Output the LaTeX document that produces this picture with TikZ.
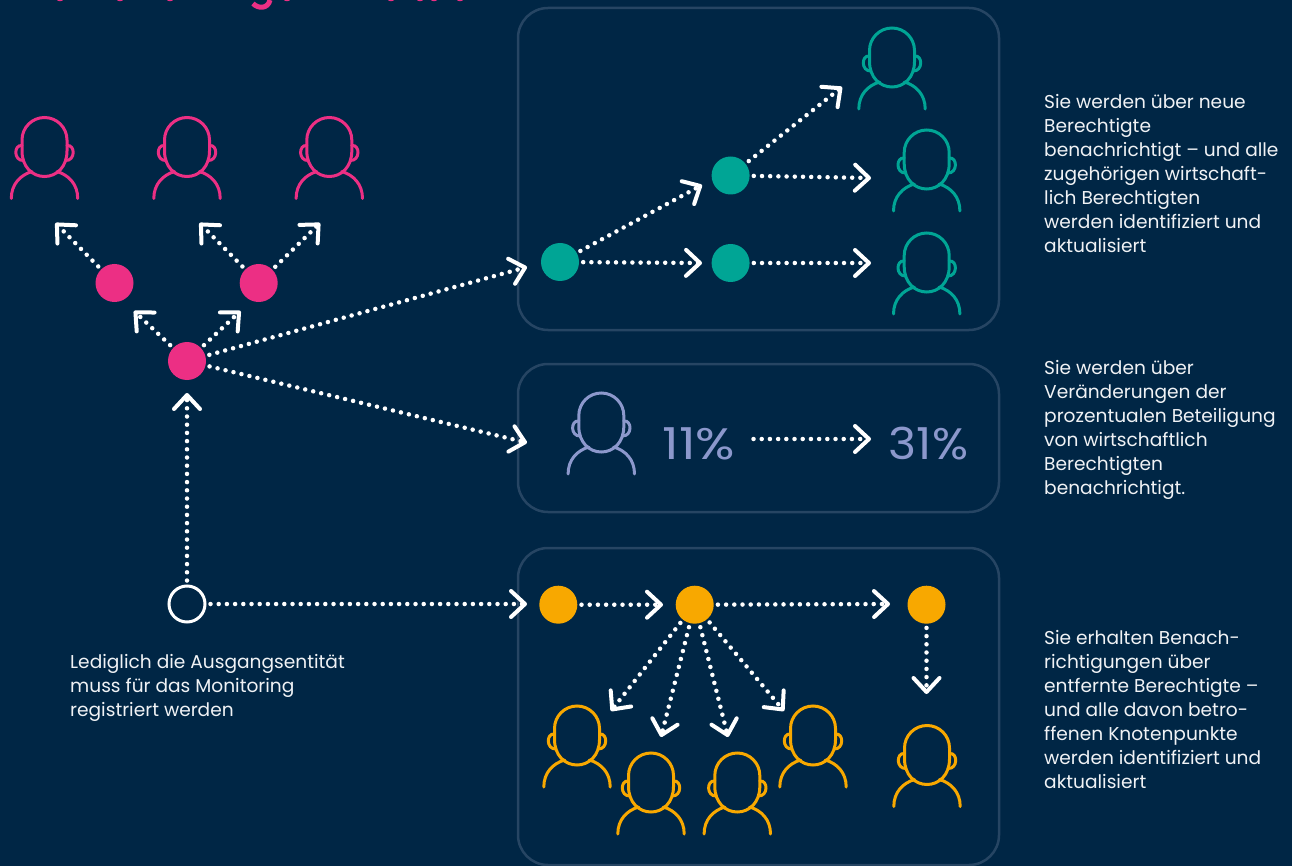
\documentclass[tikz,border=0pt]{standalone}
\usepackage{fontspec}
\setmainfont{Poppins}
\usetikzlibrary{arrows.meta}
\definecolor{navy}{HTML}{002645}
\definecolor{panelline}{HTML}{264563}
\definecolor{hotpink}{HTML}{EC2F84}
\definecolor{teal}{HTML}{00A595}
\definecolor{amber}{HTML}{F8A800}
\definecolor{lilac}{HTML}{8C98CC}
\definecolor{notetext}{HTML}{F0F2F5}
\tikzset{
  panel/.style={draw=panelline, line width=2.5pt, rounded corners=30pt, inner sep=0pt},
  spot/.style={circle, fill=#1, minimum size=38pt, inner sep=0pt},
  link/.style={draw=white, line width=4.5pt, line cap=round, dash pattern=on 0pt off 8.2pt,
    shorten <=4pt, -{Straight Barb[length=14pt,width=26pt,line width=4pt,round]}},
  note/.style={text=notetext, anchor=north west, align=left, inner sep=0pt, font=\fontsize{18.6}{24}\selectfont},
  pct/.style={text=lilac, inner sep=0pt, font=\fontsize{44}{44}\selectfont},
  person/.pic={
    \draw[pic actions, line width=3pt, line cap=round]
      (-22.5,-6.5) arc[start angle=180, end angle=360, radius=22.5]
      -- (22.5,4.5) .. controls (22.5,20.5) and (12,30) .. (0,30)
      .. controls (-12,30) and (-22.5,20.5) .. (-22.5,4.5) -- cycle;
    \draw[pic actions, line width=3pt, line cap=round]
      (-22.5,-1) .. controls (-31,-2) and (-31,14.5) .. (-21,14);
    \draw[pic actions, line width=3pt, line cap=round]
      (22.5,-1) .. controls (31,-2) and (31,14.5) .. (21,14);
    \draw[pic actions, line width=3pt, line cap=round]
      (-33.2,52) .. controls (-33.2,37.5) and (-24,28.5) .. (-12.5,25);
    \draw[pic actions, line width=3pt, line cap=round]
      (33.2,52) .. controls (33.2,37.5) and (24,28.5) .. (12.5,25);
  }
}
\begin{document}
\begin{tikzpicture}[x=1pt, y=-1pt]
\clip (0,0) rectangle (1292,866);
\fill[navy] (0,0) rectangle (1292,866);

\draw[hotpink, line width=5pt] (253,3.5) .. controls (258,9) and (268,9) .. (270,0);
\foreach \cx in {60,120,170,287,391,420,434,460}
  \fill[hotpink] (\cx,0) ellipse[x radius=3, y radius=1.2];

\node[panel, minimum width=481pt, minimum height=322pt] (PanelNew) at (758.5,169) {};
\node[panel, minimum width=481pt, minimum height=148pt] (PanelShare) at (758.5,438) {};
\node[panel, minimum width=481pt, minimum height=317pt] (PanelGone) at (758.5,706.5) {};

\foreach \cx in {44.5,187,329.3}
  \pic[draw=hotpink] at (\cx,146.5) {person};
\pic[draw=teal] at (892,57) {person};
\pic[draw=teal] at (926.7,159) {person};
\pic[draw=teal] at (926.7,262) {person};
\pic[draw=lilac] at (601.3,422) {person};
\pic[draw=amber] at (577,735) {person};
\pic[draw=amber] at (651,782) {person};
\pic[draw=amber] at (737.3,782) {person};
\pic[draw=amber] at (813,735) {person};
\pic[draw=amber] at (927,754.5) {person};

\node[spot=hotpink] (PinkLeft) at (114.5,283) {};
\node[spot=hotpink] (PinkRight) at (258.7,283) {};
\node[spot=hotpink] (PinkMid) at (187,361) {};
\node[circle, draw=white, line width=3pt, minimum size=36pt, inner sep=0pt] (Start) at (187,604) {};
\node[spot=teal] (TealA) at (560,262) {};
\node[spot=teal] (TealB) at (730.6,175.5) {};
\node[spot=teal] (TealC) at (730.6,263) {};
\node[spot=amber] (AmberA) at (558.3,604.7) {};
\node[spot=amber] (AmberB) at (694.7,604.7) {};
\node[spot=amber] (AmberC) at (926.5,604.7) {};

\node[pct, inner xsep=14pt] (PctFrom) at (699,444) {\scalebox{1.18}[1]{11\%}};
\node[pct] (PctTo) at (928.5,444) {\scalebox{1.08}[1]{31\%}};

\coordinate (TipLL) at (55.5,223);
\coordinate (TipLR) at (199.5,223);
\coordinate (TipRR) at (320,223);
\coordinate (TipML) at (134,311);
\coordinate (TipMR) at (240.5,311);
\coordinate (TipUp) at (187,393);
\coordinate (TipNew) at (527,267);
\coordinate (TipShare) at (527,442.7);
\coordinate (TipStart) at (527,604);
\coordinate (TipTealB) at (702,185);
\coordinate (TipTealC) at (702,263);
\coordinate (TipTop) at (842,87);
\coordinate (TipSide) at (871,178);
\coordinate (TipLow) at (871,263);
\coordinate (TipPct) at (871,439);
\coordinate (TipAmberB) at (663,604.7);
\coordinate (TipAmberC) at (890,604);
\coordinate (TipDown) at (926.5,694);
\coordinate (TipFanA) at (611,711);
\coordinate (TipFanB) at (661,737);
\coordinate (TipFanC) at (728,737);
\coordinate (TipFanD) at (784,711);

\draw[link] (PinkLeft) -- (TipLL);
\draw[link] (PinkRight) -- (TipLR);
\draw[link] (PinkRight) -- (TipRR);
\draw[link] (PinkMid) -- (TipML);
\draw[link] (PinkMid) -- (TipMR);
\draw[link] (PinkMid) -- (TipNew);
\draw[link] (PinkMid) -- (TipShare);
\draw[link] (Start) -- (TipUp);
\draw[link] (Start) -- (TipStart);
\draw[link] (TealA) -- (TipTealB);
\draw[link] (TealA) -- (TipTealC);
\draw[link] (TealB) -- (TipTop);
\draw[link] (TealB) -- (TipSide);
\draw[link] (TealC) -- (TipLow);
\draw[link] (PctFrom.east |- TipPct) -- (TipPct);
\draw[link] (AmberA) -- (TipAmberB);
\draw[link] (AmberB) -- (TipAmberC);
\draw[link] (AmberC) -- (TipDown);
\draw[link] (AmberB) -- (TipFanA);
\draw[link] (AmberB) -- (TipFanB);
\draw[link] (AmberB) -- (TipFanC);
\draw[link] (AmberB) -- (TipFanD);

\node[note] (NoteStart) at (70,654) {Lediglich die Ausgangsentität\\muss für das Monitoring\\registriert werden};
\node[note] (NoteNew) at (1044,94) {Sie werden über neue\\Berechtigte\\benachrichtigt – und alle\\zugehörigen wirtschaft-\\lich Berechtigten\\werden identifiziert und\\aktualisiert};
\node[note] (NoteShare) at (1044,360) {Sie werden über\\Veränderungen der\\prozentualen Beteiligung\\von wirtschaftlich\\Berechtigten\\benachrichtigt.};
\node[note] (NoteGone) at (1044,630) {Sie erhalten Benach-\\richtigungen über\\entfernte Berechtigte –\\und alle davon betro-\\ffenen Knotenpunkte\\werden identifiziert und\\aktualisiert};
\end{tikzpicture}
\end{document}
